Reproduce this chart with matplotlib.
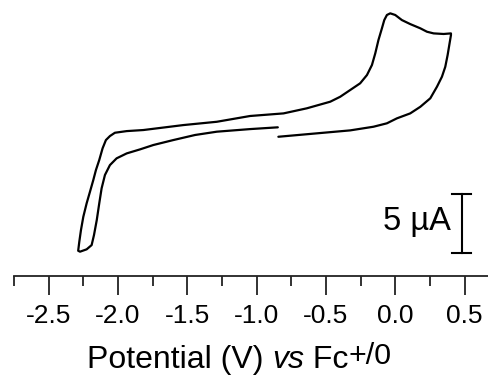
import matplotlib
matplotlib.use("Agg")
import matplotlib.pyplot as plt
from matplotlib.ticker import MultipleLocator

plt.rcParams['font.family'] = ['Liberation Sans', 'DejaVu Sans']

# Cyclic voltammogram (potential in V vs Fc+/0, current in µA, arbitrary offset)
potential_V = [
    -0.843, -0.565, -0.325, -0.157, -0.060, 0.012, 0.108, 0.181, 0.253, 0.301,
    0.337, 0.361, 0.378, 0.392, 0.402, 0.402,
    0.349, 0.277, 0.229, 0.181, 0.108, 0.048, 0.000, -0.036, -0.060, -0.079,
    -0.096, -0.121, -0.144, -0.168, -0.204, -0.253, -0.325, -0.397, -0.469,
    -0.638, -0.806, -1.047, -1.287, -1.529, -1.817, -1.937, -2.022, -2.058,
    -2.087, -2.111, -2.135, -2.159, -2.178, -2.202, -2.226, -2.250, -2.267,
    -2.279, -2.287,
    -2.274, -2.226, -2.190, -2.173, -2.153, -2.135, -2.118, -2.094, -2.058,
    -2.010, -1.937, -1.841, -1.745, -1.601, -1.444, -1.287, -1.047, -0.847,
]
current_uA = [
    9.60, 9.89, 10.14, 10.45, 10.74, 11.16, 11.58, 12.14, 12.86, 13.84,
    14.69, 15.53, 16.53, 17.52, 18.22, 18.36,
    18.31, 18.36, 18.50, 18.79, 19.15, 19.49, 19.92, 20.06, 19.92, 19.49,
    18.79, 17.80, 16.67, 15.68, 14.83, 14.13, 13.56, 12.99, 12.57,
    12.01, 11.58, 11.36, 10.87, 10.59, 10.17, 10.08, 9.94, 9.66,
    9.32, 8.62, 7.63, 6.78, 5.93, 4.94, 3.96, 2.82, 1.69,
    0.70, -0.06,
    -0.14, 0.06, 0.42, 1.27, 2.54, 3.96, 5.23, 6.36, 7.20,
    7.77, 8.19, 8.53, 8.90, 9.32, 9.75, 10.03, 10.25, 10.40,
]

x_ticks = [-2.5, -2.0, -1.5, -1.0, -0.5, 0.0, 0.5]
x_tick_labels = ['-2.5', '-2.0', '-1.5', '-1.0', '-0.5', '0.0', '0.5']
scale_bar_uA = 5
scale_bar_label = '5 µA'

W, H = 489, 376
fig = plt.figure(figsize=(W / 100, H / 100), dpi=100)
ax = fig.add_axes([14 / W, 100 / H, 475.5 / W, 276 / H])

ax.plot(potential_V, current_uA, color='black', lw=1.6,
        solid_joinstyle='round', solid_capstyle='round')

# scale bar
sb_x, sb_y0 = 0.480, -0.25
ax.plot([sb_x, sb_x], [sb_y0, sb_y0 + scale_bar_uA], color='black', lw=1.5)
ax.plot([sb_x - 0.068, sb_x + 0.068], [sb_y0, sb_y0], color='black', lw=1.5)
ax.plot([sb_x - 0.068, sb_x + 0.068], [sb_y0 + scale_bar_uA] * 2, color='black', lw=1.5)
ax.text(0.398, 2.45, scale_bar_label, ha='right', va='center', fontsize=23.5)

ax.set_xlim(-2.75, 0.68)
ax.set_ylim(-2.2, 21.19)

for s in ['left', 'right', 'top']:
    ax.spines[s].set_visible(False)
ax.spines['bottom'].set_linewidth(1.3)
ax.spines['bottom'].set_color('#222222')
ax.set_yticks([])
ax.set_xticks(x_ticks)
ax.set_xticklabels(x_tick_labels)
ax.xaxis.set_minor_locator(MultipleLocator(0.25))
ax.tick_params(axis='x', which='major', length=14, width=1.3, pad=6,
               labelsize=19, color='#222222')
ax.tick_params(axis='x', which='minor', length=7, width=1.3, color='#222222')
ax.patch.set_alpha(0)

# x-axis label built from pieces: normal, italic "vs", and raised "+/0"
fs = 23
t1 = fig.text(87 / W, (H - 368) / H, 'Potential (V) ', fontsize=fs,
              ha='left', va='baseline')
t2 = ax.annotate('vs', xy=(1, 0), xycoords=t1, ha='left', va='bottom',
                 fontsize=fs, style='italic', annotation_clip=False)
t3 = ax.annotate(' Fc', xy=(1, 0), xycoords=t2, ha='left', va='bottom',
                 fontsize=fs, annotation_clip=False)
t4 = ax.annotate('+/0', xy=(1, 0), xycoords=t3, xytext=(0, 5),
                 textcoords='offset pixels', ha='left', va='bottom',
                 fontsize=fs * 0.95, annotation_clip=False)

fig.savefig('out.png', dpi=100, facecolor='white')
